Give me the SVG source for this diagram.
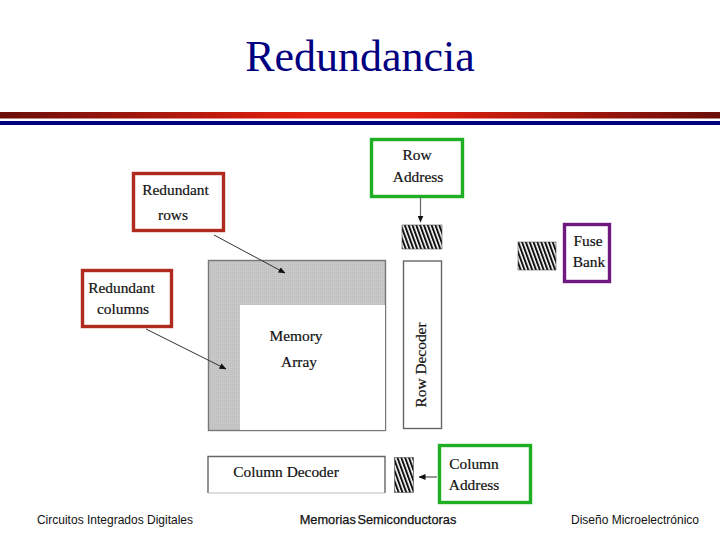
<svg xmlns="http://www.w3.org/2000/svg" width="720" height="540" viewBox="0 0 720 540">
<style>
.d{font-family:"Liberation Serif",serif;font-size:15.4px;fill:#111;stroke:#111;stroke-width:.2;text-anchor:middle}
.f{font-family:"Liberation Sans",sans-serif;font-size:12px;fill:#111;text-anchor:middle}
.b{fill:#fff;stroke-width:3.4}
.o{fill:#fff;stroke:#666;stroke-width:1.4}
.c{stroke:#333;stroke-width:1;fill:none}
</style>
<defs>
<linearGradient id="g" x1="0" x2="1" y1="0" y2="0">
<stop offset="0" stop-color="#6a0f0a"/><stop offset="0.42" stop-color="#e2200f"/><stop offset="0.58" stop-color="#e2200f"/><stop offset="1" stop-color="#6a0f0a"/>
</linearGradient>
<pattern id="h" width="3.6" height="3.6" patternUnits="userSpaceOnUse" patternTransform="rotate(-20)">
<rect width="3.6" height="3.6" fill="#fff"/><rect width="2" height="3.6" fill="#111"/>
</pattern>
<pattern id="s" width="2" height="2" patternUnits="userSpaceOnUse">
<rect width="2" height="2" fill="#c8c8c8"/><rect width="1" height="1" fill="#bcbcbc"/>
</pattern>
<marker id="a" markerWidth="7" markerHeight="6" refX="6.500" refY="3" orient="auto" markerUnits="userSpaceOnUse">
<path d="M0 0L7 3L0 6z" fill="#111"/>
</marker>
</defs>
<rect width="720" height="540" fill="#fff"/>
<text x="360" y="71" font-family="Liberation Serif,serif" font-size="44" fill="#000080" text-anchor="middle">Redundancia</text>
<rect x="0" y="112" width="720" height="6.500" fill="url(#g)"/>
<rect x="0" y="121" width="720" height="4" fill="#000080"/>

<g id="memory-array">
<rect x="208.500" y="260.500" width="177" height="170" fill="url(#s)" stroke="#777" stroke-width="1.400"/>
<rect x="240" y="305" width="145" height="125" fill="#fff"/>
<text class="d" x="296" y="341">Memory</text>
<text class="d" x="299" y="367">Array</text>
</g>
<g id="row-decoder">
<rect class="o" x="403.500" y="261" width="38" height="167.500"/>
<text class="d" transform="translate(426 365) rotate(-90)">Row Decoder</text>
</g>
<g id="column-decoder">
<path d="M208 493V456.500H385V493" class="o"/>
<path d="M208 493H385" stroke="#bbb" fill="none"/>
<text class="d" x="286" y="476.500">Column Decoder</text>
</g>
<g id="row-latch"><rect x="402" y="225" width="40" height="24" fill="url(#h)" stroke="#555" stroke-width="0.600"/></g>
<g id="fuse-latch"><rect x="518" y="242" width="38" height="28" fill="url(#h)" stroke="#555" stroke-width="0.600"/></g>
<g id="column-latch"><rect x="394.500" y="457.500" width="19" height="35" fill="url(#h)" stroke="#555" stroke-width="0.600"/></g>
<g id="row-address">
<rect class="b" x="371.500" y="139.500" width="91" height="57" stroke="#1fae24"/>
<text class="d" x="417" y="160">Row</text>
<text class="d" x="418" y="182">Address</text>
</g>
<g id="fuse-bank">
<rect class="b" x="564.500" y="224.500" width="45" height="57" stroke="#6f1a80"/>
<text class="d" x="588" y="246">Fuse</text>
<text class="d" x="589" y="267">Bank</text>
</g>
<g id="redundant-rows">
<rect class="b" x="133.500" y="173.500" width="90" height="57" stroke="#b02a20"/>
<text class="d" x="175.500" y="195">Redundant</text>
<text class="d" x="173" y="220">rows</text>
</g>
<g id="redundant-columns">
<rect class="b" x="82.500" y="270.500" width="89" height="56" stroke="#b02a20"/>
<text class="d" x="121.500" y="293">Redundant</text>
<text class="d" x="123" y="314">columns</text>
</g>
<g id="column-address">
<rect class="b" x="439.500" y="445.500" width="91" height="57" stroke="#1fae24"/>
<text class="d" x="474" y="469">Column</text>
<text class="d" x="474" y="490">Address</text>
</g>
<g id="connectors">
<path class="c" d="M214 235L285 273" marker-end="url(#a)"/>
<path class="c" d="M146 329L226 369" marker-end="url(#a)"/>
<path d="M420.500 197V222" stroke="#666" stroke-width="1.200" fill="none" marker-end="url(#a)"/>
<path d="M437 477H419" stroke="#555" stroke-width="1.200" fill="none" marker-end="url(#a)"/>
</g>
<text class="f" x="115" y="524">Circuitos Integrados Digitales</text>
<text class="f" x="378" y="524" word-spacing="-2" stroke="#111" stroke-width=".25" style="font-size:12.800px">Memorias Semiconductoras</text>
<text class="f" x="635" y="524">Diseño Microelectrónico</text>
</svg>
